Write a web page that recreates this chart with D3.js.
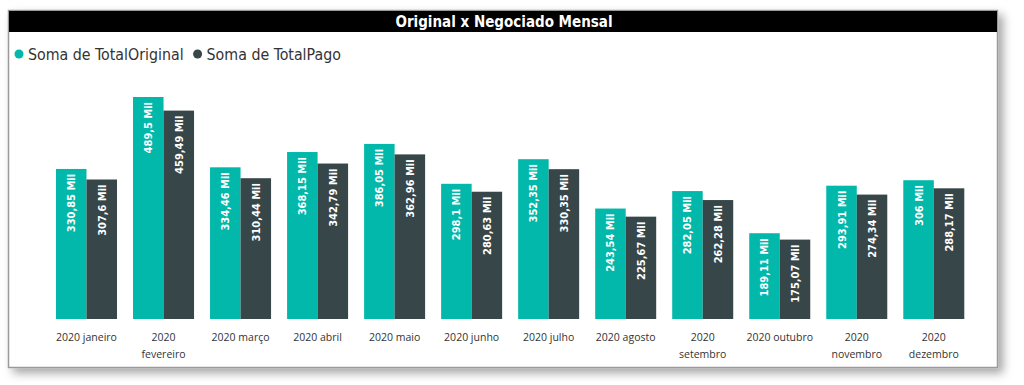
<!DOCTYPE html>
<html>
<head>
<meta charset="utf-8">
<script src="https://cdn.jsdelivr.net/npm/d3@7"></script>
<style>
  body { margin: 0; background: #fff; }
  svg { display: block; }
</style>
</head>
<body>
<svg id="chart"></svg>
<script>
// chart data
var months = ["2020 janeiro", "2020 fevereiro", "2020 março", "2020 abril", "2020 maio", "2020 junho",
              "2020 julho", "2020 agosto", "2020 setembro", "2020 outubro", "2020 novembro", "2020 dezembro"];
var totalOriginal = [330.85, 489.5, 334.46, 368.15, 386.05, 298.1, 352.35, 243.54, 282.05, 189.11, 293.91, 306];
var totalPago = [307.6, 459.49, 310.44, 342.79, 362.96, 280.63, 330.35, 225.67, 262.28, 175.07, 274.34, 288.17];
var seriesNames = ["Soma de TotalOriginal", "Soma de TotalPago"];
var colors = ["#01B8AA", "#374649"];

var width = 1024, height = 385;
var svg = d3.select("#chart").attr("width", width).attr("height", height);

var defs = svg.append("defs");
var f = defs.append("filter").attr("id", "shadow").attr("x", "-5%").attr("y", "-10%").attr("width", "110%").attr("height", "130%");
f.append("feDropShadow").attr("dx", 5).attr("dy", 5).attr("stdDeviation", 5).attr("flood-color", "#000").attr("flood-opacity", 0.35);

// card
svg.append("rect")
    .attr("x", 8.5).attr("y", 10.5).attr("width", 989).attr("height", 357)
    .attr("fill", "#fff").attr("stroke", "#9a9a9a").attr("stroke-width", 1.5)
    .attr("filter", "url(#shadow)");

// title bar
svg.append("rect").attr("x", 9).attr("y", 11).attr("width", 988).attr("height", 21).attr("fill", "#000");
svg.append("text")
    .attr("x", 504).attr("y", 27)
    .attr("text-anchor", "middle")
    .attr("fill", "#fff")
    .style("font-family", "'DejaVu Sans Condensed', 'DejaVu Sans'")
    .style("font-weight", "bold")
    .style("font-size", "15px")
    .text("Original x Negociado Mensal");

// legend
var legend = svg.append("g").style("font-family", "'DejaVu Sans Condensed', 'DejaVu Sans'").style("font-size", "15.8px");
var lx = 19;
seriesNames.forEach(function(name, i) {
    legend.append("circle").attr("cx", lx).attr("cy", 54).attr("r", 4.5).attr("fill", colors[i]);
    var t = legend.append("text").attr("x", lx + 9).attr("y", 59.5).attr("fill", "#333").text(name);
    lx += 9 + t.node().getComputedTextLength() + 14;
});

// scales
var x0 = d3.scaleBand().domain(months).range([48.3, 972]).paddingInner(0.208).paddingOuter(0.1);
var x1 = d3.scaleBand().domain([0, 1]).range([0, x0.bandwidth()]);
var y = d3.scaleLinear().domain([0, 489.5]).range([319, 97]);

var groups = svg.append("g").selectAll("g")
    .data(months)
    .join("g")
    .attr("transform", function(d) { return "translate(" + x0(d) + ",0)"; });

var labelFont = "'DejaVu Sans Condensed', 'DejaVu Sans'";
[totalOriginal, totalPago].forEach(function(vals, s) {
    groups.append("rect")
        .attr("x", x1(s))
        .attr("y", function(d, i) { return y(vals[i]); })
        .attr("width", x1.bandwidth())
        .attr("height", function(d, i) { return y(0) - y(vals[i]); })
        .attr("fill", colors[s]);
    groups.append("text")
        .attr("transform", function(d, i) {
            return "translate(" + (x1(s) + x1.bandwidth() / 2 + 4) + "," + (y(vals[i]) + 5) + ") rotate(-90)";
        })
        .attr("text-anchor", "end")
        .attr("fill", "#fff")
        .style("font-family", labelFont)
        .style("font-weight", "bold")
        .style("font-size", "11px")
        .text(function(d, i) { return String(vals[i]).replace(".", ",") + " Mil"; });
});

// x axis labels (wrapped like the original)
var xAxis = svg.append("g")
    .attr("transform", "translate(0,319)")
    .call(d3.axisBottom(x0).tickSize(0).tickPadding(15));
xAxis.select(".domain").remove();
xAxis.selectAll("text")
    .attr("fill", "#333")
    .style("font-family", "'Open Sans', 'Noto Sans'")
    .style("font-size", "10.5px")
    .each(function(d) {
        var el = d3.select(this);
        if (this.getComputedTextLength() > 68) {
            var words = d.split(" ");
            el.text(null);
            el.append("tspan").attr("x", 0).attr("dy", "0.71em").text(words[0]);
            el.append("tspan").attr("x", 0).attr("dy", "1.6em").text(words.slice(1).join(" "));
            el.attr("dy", null);
        }
    });
</script>
</body>
</html>
